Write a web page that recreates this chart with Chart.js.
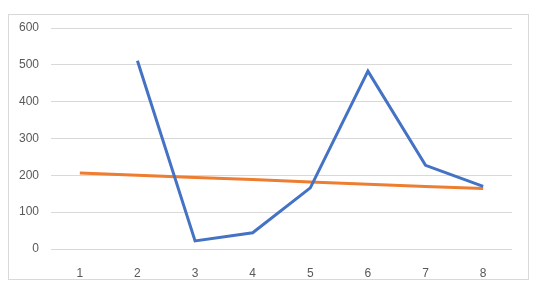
<!DOCTYPE html>
<html>
<head>
<meta charset="utf-8">
<script src="https://cdn.jsdelivr.net/npm/chart.js@4/dist/chart.umd.min.js"></script>
<style>
  html, body { margin: 0; padding: 0; background: #fff; }
  #wrap { position: relative; width: 544px; height: 302px; }
  #frame { position: absolute; left: 8px; top: 14px; width: 519px; height: 264px; border: 1px solid #d9d9d9; pointer-events: none; }
</style>
</head>
<body>
<div id="wrap">
  <canvas id="chart" width="544" height="302"></canvas>
  <div id="frame"></div>
</div>
<script>
// Chart data
const categories = ['1', '2', '3', '4', '5', '6', '7', '8'];
const blueValues = [null, 511, 22, 44, 166, 483, 227, 170];
const orangeValues = [206, 200, 194, 189, 182, 176, 170, 164];
const yTicks = [0, 100, 200, 300, 400, 500, 600];

const ctx = document.getElementById('chart').getContext('2d');
new Chart(ctx, {
    type: 'line',
    data: {
        labels: categories,
        datasets: [{
            data: blueValues,
            borderColor: '#4472C4',
            borderWidth: 3,
            pointRadius: 0,
            tension: 0
        }, {
            data: orangeValues,
            borderColor: '#ED7D31',
            borderWidth: 3,
            pointRadius: 0,
            tension: 0
        }]
    },
    options: {
        responsive: false,
        animation: false,
        layout: {
            padding: { left: 0, top: 28, right: 32, bottom: 0 }
        },
        scales: {
            y: {
                min: 0,
                max: 600,
                afterFit: (axis) => { axis.width = 51; },
                afterBuildTicks: (axis) => { axis.ticks = yTicks.map(v => ({ value: v })); },
                border: { display: false },
                grid: {
                    color: '#d9d9d9',
                    drawTicks: false
                },
                ticks: {
                    padding: 12,
                    color: '#595959',
                    font: { family: 'Liberation Sans', size: 12 }
                }
            },
            x: {
                offset: true,
                afterFit: (axis) => { axis.height = 53; },
                border: { display: false },
                grid: { display: false },
                ticks: {
                    padding: 9,
                    color: '#595959',
                    font: { family: 'Liberation Sans', size: 12 }
                }
            }
        },
        plugins: {
            legend: { display: false },
            tooltip: { enabled: false }
        }
    }
});
</script>
</body>
</html>
